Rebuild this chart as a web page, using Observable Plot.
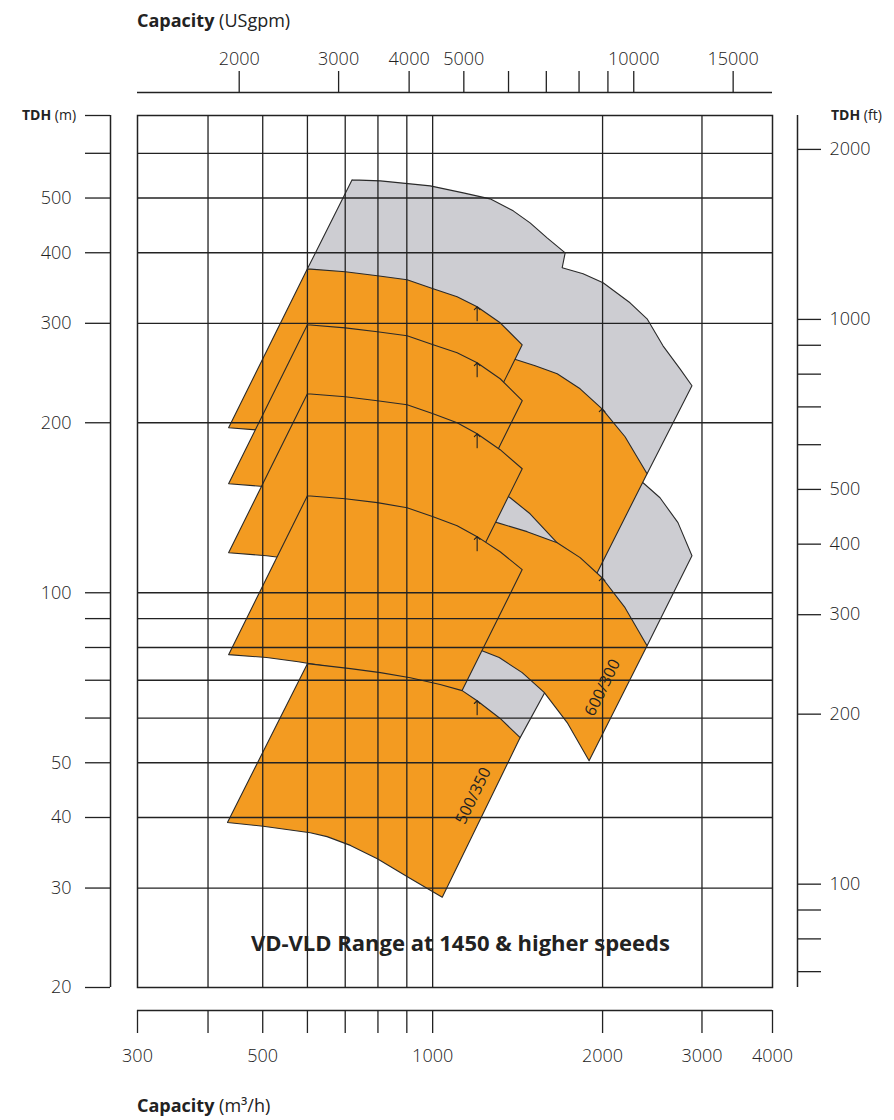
<!DOCTYPE html>
<html><head><meta charset="utf-8">
<script src="https://cdn.jsdelivr.net/npm/d3@7"></script>
<script src="https://cdn.jsdelivr.net/npm/@observablehq/plot@0.6"></script>
<style>
body{margin:0;background:#fff;}
#wrap{position:relative;width:894px;height:1120px;font-family:"Open Sans",sans-serif;color:#222;}
.ttl{position:absolute;white-space:nowrap;line-height:1;}
.ttl b{font-weight:700}
</style></head><body>
<div id="wrap">
<div class="ttl" style="left:137px;top:11px;font-size:18px"><b>Capacity</b> (USgpm)</div>
<div class="ttl" style="left:22px;top:108px;font-size:14px"><b>TDH</b> (m)</div>
<div class="ttl" style="left:831px;top:108px;font-size:14px"><b>TDH</b> (ft)</div>
<div class="ttl" style="left:137px;top:1096px;font-size:18px"><b>Capacity</b> (m³/h)</div>
</div>
<script>
// ---- axis tick values ----
const qTicks = [300, 400, 500, 600, 700, 800, 900, 1000, 2000, 3000, 4000];
const qLabeled = [300, 500, 1000, 2000, 3000, 4000];
const qGrid = [400, 500, 600, 700, 800, 900, 1000, 2000, 3000];
const gpmTicks = [2000, 3000, 4000, 5000, 6000, 7000, 8000, 9000, 10000, 15000];
const gpmLabeled = [2000, 3000, 4000, 5000, 10000, 15000];
const hTicks = [20, 30, 40, 50, 60, 70, 80, 90, 100, 200, 300, 400, 500, 600, 700];
const hLabeled = [20, 30, 40, 50, 100, 200, 300, 400, 500];
const hGrid = [30, 40, 50, 60, 70, 80, 90, 100, 200, 300, 400, 500, 600];
const ftTicks = [70, 80, 90, 100, 200, 300, 400, 500, 600, 700, 800, 900, 1000, 2000];
const ftLabeled = [100, 200, 300, 400, 500, 1000, 2000];
const GPM_PER_M3H = 4.402868;
const FT_PER_M = 3.28084;

// ---- regions: [capacity m3/h, head m] ----
const envelopeUpper = [[720,538.5],[808,536.3],[990,525.4],[1133,510.6],[1264,498.3],[1389,474.5],[1488,451.9],[1595,425.1],[1717,399.9],[1696,376.2],[1847,367.1],[2004,353.9],[2237,326.2],[2398,305.6],[2559,273.7],[2743,249.2],[2880,232.6],[2398,162.5],[2237,151.6],[1901,114.0],[1682,114.0],[1291,126.2],[1165,157.9],[633,342.5],[600,374.6]];
const envelopeRight = [[2237,164.5],[2359,156.6],[2528,147.3],[2720,133.1],[2880,116.3],[2398,80.6],[1980,96.8],[1940,114.0],[2105,134.1]];
const envelopeLower = [[1165,82.3],[1372,80.6],[1640,71.3],[1429,55.4],[1264,54.7],[1074,64.4]];

const pumpA = [[600,374.6],[700,370.1],[798,364.1],[901,358.2],[1002,345.3],[1105,334.3],[1199,320.9],[1317,300.6],[1441,274.8],[1044,143.8],[954,157.3],[869,167.9],[801,174.8],[726,180.6],[653,187.4],[578,190.5],[508,193.6],[435,196.0]];
const pumpB = [[600,298.2],[700,294.5],[798,289.8],[901,285.1],[1002,274.8],[1105,266.0],[1199,255.4],[1317,239.3],[1441,218.8],[1044,114.4],[954,125.2],[869,133.6],[801,139.2],[726,143.8],[653,149.1],[578,151.6],[508,154.1],[435,156.0]];
const pumpC = [[600,225.1],[700,222.4],[798,218.8],[901,215.2],[1002,207.5],[1105,200.0],[1199,191.2],[1317,179.2],[1441,165.8],[1044,86.7],[954,93.7],[869,100.0],[801,104.6],[726,108.5],[653,112.6],[578,114.4],[508,116.3],[435,117.7]];
const pumpD = [[600,148.5],[700,146.7],[798,144.4],[901,141.4],[1002,136.3],[1105,131.4],[1199,125.7],[1317,118.2],[1441,109.9],[1044,57.5],[954,61.8],[869,65.7],[801,68.8],[726,71.3],[653,74.0],[578,75.5],[508,76.8],[435,77.7]];
const pumpE = [[600,74.9],[715,73.4],[808,72.2],[913,70.7],[1031,68.8],[1128,67.1],[1199,64.4],[1317,59.9],[1429,55.4],[1040,28.9],[913,31.2],[798,33.8],[715,35.7],[650,37.0],[607,37.6],[501,38.6],[433,39.2]];
const pumpF1 = [[951,279.4],[1119,273.7],[1301,267.1],[1389,259.6],[1519,252.3],[1662,244.2],[1825,229.7],[1996,211.7],[2192,188.9],[2398,162.5],[1893,101.7],[1731,117.3],[1662,122.6],[1488,138.0],[1372,147.3],[1312,151.6],[1199,157.9],[1096,162.5],[998,167.9],[883,171.3],[750,174.8]];
const pumpF2 = [[951,145.5],[1119,141.4],[1301,133.1],[1470,128.3],[1662,122.6],[1825,115.4],[1996,106.3],[2192,94.1],[2398,80.6],[1893,50.4],[1731,58.9],[1576,66.6],[1441,72.2],[1312,76.8],[1161,80.6],[1027,83.3],[883,88.5],[750,91.1]];

// best-efficiency arrows
const bepQ = [1199, 1199, 1199, 1199, 1199, 1996, 1996];
const bepH = [320.9, 255.4, 191.2, 125.7, 64.4, 211.7, 106.3];
// size labels
const sizeText = ["500/350", "600/300"];
const sizeQ = [1181, 2000];
const sizeH = [43.7, 67.9];
const titleText = "VD-VLD Range at 1450 & higher speeds";

const GRAY = "#cdcdd2", ORANGE = "#f39b21", INK = "#222";
const layers = [
  [envelopeUpper, GRAY], [envelopeRight, GRAY], [envelopeLower, GRAY],
  [pumpF1, ORANGE], [pumpA, ORANGE], [pumpB, ORANGE], [pumpF2, ORANGE],
  [pumpC, ORANGE], [pumpD, ORANGE], [pumpE, ORANGE]
];

const gpmPos = gpmTicks.map(g => g / GPM_PER_M3H);
const ftPos = ftTicks.map(f => f / FT_PER_M);
const tickFont = {fontSize: 18, fontFamily: "Open Sans", fontWeight: 300};

const plot = Plot.plot({
  width: 894,
  height: 1120,
  marginTop: 115,
  marginBottom: 133,
  marginLeft: 137,
  marginRight: 122,
  x: {type: "log", domain: [300, 4000]},
  y: {type: "log", domain: [20, 700]},
  style: {fontFamily: "Open Sans", color: INK, background: "transparent", overflow: "visible"},
  marks: [
    ...layers.map(([pts, c]) => Plot.line([...pts, pts[0]], {
      x: d => d[0], y: d => d[1], fill: c, stroke: "#2a2a2a", strokeWidth: 1.1, strokeLinejoin: "round"
    })),
    Plot.ruleX(qGrid, {stroke: INK, strokeWidth: 1.3}),
    Plot.ruleY(hGrid, {stroke: INK, strokeWidth: 1.3}),
    Plot.frame({stroke: INK, strokeWidth: 1.5}),
    Plot.vector(bepQ.map((q, i) => [q, bepH[i]]), {
      x: d => d[0], y: d => d[1], length: 14, rotate: 0, anchor: "end", stroke: INK, strokeWidth: 1.1
    }),
    Plot.text(sizeText.map((t, i) => ({t, q: sizeQ[i], h: sizeH[i]})), {
      x: "q", y: "h", text: "t", rotate: -64, fontSize: 16, fill: INK
    }),
    Plot.text([{t: titleText, q: 1120, h: 23.9}], {
      x: "q", y: "h", text: "t", fontSize: 22, fontWeight: "bold", fill: INK
    }),
    // bottom capacity axis (m3/h)
    Plot.ruleY([20], {dy: 23, stroke: INK, strokeWidth: 1.5}),
    Plot.axisX(qTicks, {anchor: "bottom", dy: 23, tickSize: 23, tickPadding: 16, label: null, color: INK, strokeWidth: 1.3,
      tickFormat: d => qLabeled.includes(d) ? String(d) : "", ...tickFont}),
    // top capacity axis (USgpm)
    Plot.ruleY([700], {dy: -23, stroke: INK, strokeWidth: 1.5}),
    Plot.axisX(gpmPos, {anchor: "top", dy: -23, tickSize: 22, label: null, color: INK, strokeWidth: 1.3,
      tickFormat: () => ""}),
    Plot.text(gpmLabeled.map(g => ({g, q: g / GPM_PER_M3H})), {
      x: "q", text: d => String(d.g), frameAnchor: "top", dy: -51, lineAnchor: "bottom", fill: INK, ...tickFont
    }),
    // left head axis (m)
    Plot.ruleX([300], {dx: -27, stroke: INK, strokeWidth: 1.5}),
    Plot.axisY(hTicks, {anchor: "left", dx: -27, tickSize: 25, tickPadding: 14, label: null, color: INK, strokeWidth: 1.3,
      tickFormat: d => hLabeled.includes(d) ? String(d) : "", ...tickFont}),
    // right head axis (ft)
    Plot.ruleX([4000], {dx: 25, stroke: INK, strokeWidth: 1.5}),
    Plot.axisY(ftPos, {anchor: "right", dx: 25, tickSize: 23, tickPadding: 9, label: null, color: INK, strokeWidth: 1.3,
      tickFormat: d => { const f = Math.round(d * FT_PER_M); return ftLabeled.includes(f) ? String(f) : ""; }, ...tickFont})
  ]
});
document.getElementById("wrap").prepend(plot);
</script>
</body></html>
